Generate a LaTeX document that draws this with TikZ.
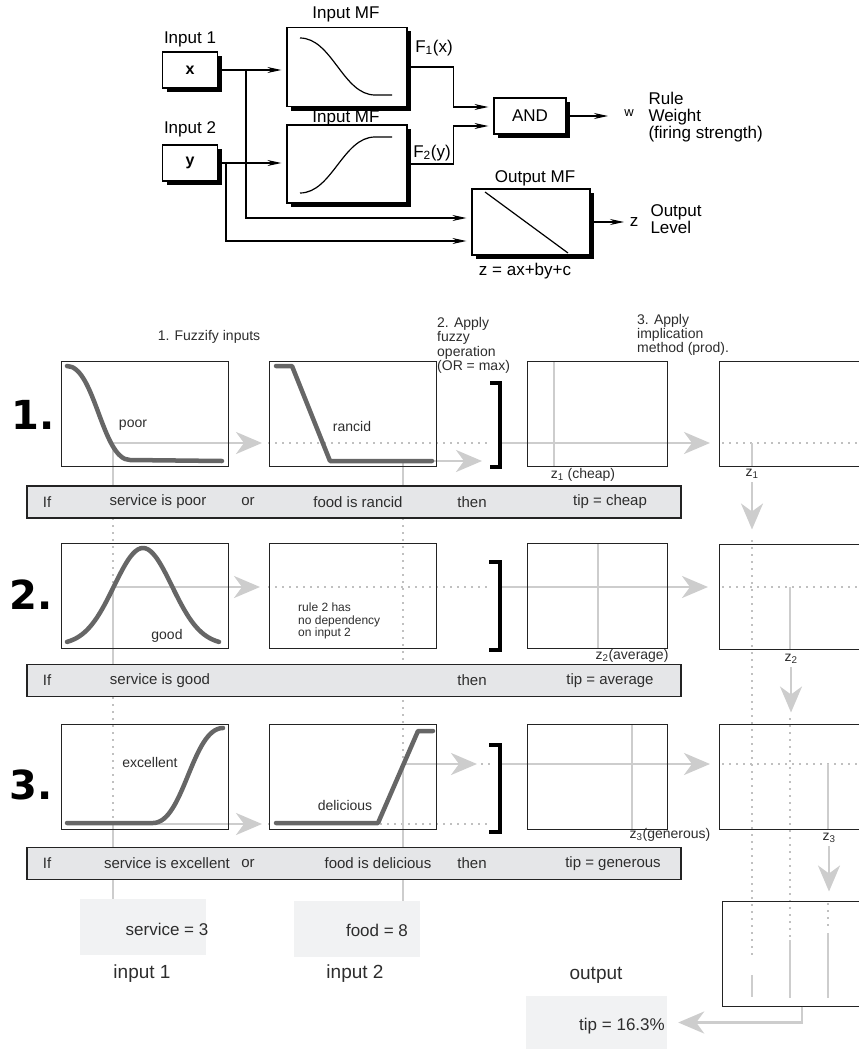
\documentclass[tikz,border=0pt]{standalone}
\usepackage{fontspec}
\setmainfont{Liberation Sans}
\newfontfamily\heavyfont{DejaVu Sans}
\usetikzlibrary{arrows.meta,shadows}

\definecolor{curvegray}{RGB}{102,102,102}
\definecolor{arrowgray}{RGB}{205,205,205}
\definecolor{dotgray}{RGB}{192,192,192}
\definecolor{barfill}{RGB}{229,230,232}
\definecolor{infill}{RGB}{241,242,243}
\definecolor{boxline}{RGB}{35,35,35}
\definecolor{txtgray}{RGB}{45,45,45}

\begin{document}
\begin{tikzpicture}[x=1pt, y=-1pt, >={Stealth[length=14pt,width=6pt]},
  blk/.style={draw, line width=1.2pt, fill=white, drop shadow={shadow xshift=4pt, shadow yshift=-4pt, fill=black, opacity=1}},
  wire/.style={->, line width=1.2pt, shorten >=5pt},
  toplbl/.style={font=\fontsize{17}{17}\selectfont},
  mfbox/.style={draw=boxline, line width=1pt, minimum height=105pt},
  mfcurve/.style={curvegray, line width=4.5pt, line cap=round, line join=round},
  gline/.style={arrowgray, line width=2.8pt},
  garrow/.style={gline, -{Stealth[length=26pt,width=22pt,inset=8pt]}},
  gdot/.style={dotgray, line width=2.4pt, dash pattern=on 2.4pt off 4.6pt},
  brk/.style={line width=4pt, line join=miter},
  rulebar/.style={draw=boxline, line width=1.3pt, fill=barfill, minimum width=654pt, minimum height=32pt},
  bartxt/.style={text=txtgray, font=\fontsize{15}{15}\selectfont},
  smlbl/.style={text=txtgray, font=\fontsize{14}{14}\selectfont},
  inbox/.style={fill=infill, minimum width=126pt, minimum height=56pt},
  biglbl/.style={font=\fontsize{19}{19}\selectfont, text=txtgray},
  rulenum/.style={font=\heavyfont\bfseries\fontsize{40}{40}\selectfont}]
\useasboundingbox (0,0) rectangle (859,1049);
\clip (0,0) rectangle (859,1049);

% block diagram
\node[toplbl] (lin1) at (190,39) {Input 1};
\node[blk, minimum width=55pt, minimum height=36pt, font=\bfseries\fontsize{16}{16}\selectfont] (xin) at (190,70) {x};
\node[toplbl] (lin2) at (190,129) {Input 2};
\node[blk, minimum width=55pt, minimum height=36pt, font=\bfseries\fontsize{16}{16}\selectfont] (yin) at (190,163) {y};

\node[blk, minimum width=120pt, minimum height=79pt] (mf1) at (347,67) {};
\node[blk, minimum width=120pt, minimum height=78pt] (mf2) at (347,164) {};
\node[toplbl] (tmf1) at (346,14) {Input MF};
\node[toplbl] (tmf2) at (346,118) {Input MF};
\draw[line width=1.2pt] (300,38) .. controls (332,38) and (343,95) .. (375,95) -- (392,95);
\draw[line width=1.2pt] (300,193) .. controls (332,193) and (343,137) .. (375,137) -- (392,137);

\node[blk, minimum width=72pt, minimum height=36pt, toplbl] (and) at (530,116) {AND};
\node[blk, minimum width=118pt, minimum height=66pt] (omf) at (531,222) {};
\node[toplbl] (tomf) at (535,178) {Output MF};
\draw[line width=1.2pt] (485,192) -- (568,253);
\node[toplbl] (zeq) at (525,271) {z = ax+by+c};

\coordinate (jx) at (246,70);
\coordinate (jy) at (226,163);
\coordinate (wout) at (608,116);
\coordinate (zout) at (624,222);
\draw[wire] (xin.east) -- (xin.east -| mf1.west);
\draw[wire] (yin.east) -- (yin.east -| mf2.west);
\draw[wire] (jx) |- ([yshift=4pt]omf.west);
\draw[wire] (jy) |- ([yshift=-19pt]omf.west);
\draw[wire] (mf1.east) -- ++(46,0) |- ([yshift=9pt]and.west);
\draw[wire] (mf2.east) -- ++(46,0) |- ([yshift=-10pt]and.west);
\draw[wire, shorten >=0pt] (and.east) -- (wout);
\draw[wire, shorten >=0pt] (omf.east) -- (zout);

\node[toplbl] (f1) at (434,48) {F\textsubscript{1}(x)};
\node[toplbl] (f2) at (432,153) {F\textsubscript{2}(y)};
\node[font=\fontsize{13}{13}\selectfont] (w) at (629,113) {w};
\node[toplbl, align=left, anchor=west] (rwt) at (645,117) {Rule\\Weight\\(firing strength)};
\node[toplbl] (z) at (634,222) {z};
\node[toplbl, align=left, anchor=west] (olev) at (647,219) {Output\\Level};

% step titles
\node[smlbl] (st1) at (209,337) {1. Fuzzify inputs};
\node[smlbl, font=\fontsize{14}{14.5}\selectfont, align=left, anchor=north west, inner sep=0pt] (st2) at (437,317) {2. Apply\\fuzzy\\operation\\(OR = max)};
\node[smlbl, font=\fontsize{14}{12.5}\selectfont, align=left, anchor=north west, inner sep=0pt] (st3) at (637,314) {3. Apply\\implication\\method (prod).};

\node[rulenum] (r1) at (33,415) {1.};
\node[rulenum] (r2) at (31,595) {2.};
\node[rulenum] (r3) at (31,785) {3.};

% input and output value boxes
\node[inbox] (svcbox) at (143,927) {};
\node[inbox] (foodbox) at (357,929) {};
\node[fill=infill, minimum width=141pt, minimum height=53pt] (tipbox) at (596.5,1022.5) {};

% gray lines, rule 1
\draw[gline] (113,443) -- (113,486);
\draw[garrow] (113,443) -- (262,443);
\draw[gdot] (268,443) -- (490,443);
\draw[gline] (403,461) -- (403,486);
\draw[garrow] (403,461) -- (482,461);
\draw[garrow] (502,443) -- (710,443);
\draw[gline] (554,361) -- (554,466);
\draw[gdot] (722,443) -- (859,443);
\draw[gline] (752,443) -- (752,466);

% gray lines, rule 2
\draw[gdot] (113,518) -- (113,587);
\draw[gline] (113,587) -- (113,664);
\draw[garrow] (113,587) -- (260,587);
\draw[gdot] (268,587) -- (490,587);
\draw[gdot] (403,518) -- (403,764);
\draw[garrow] (502,587) -- (708,587);
\draw[gline] (598,543) -- (598,649);
\draw[gdot] (722,587) -- (859,587);
\draw[gline] (790,587) -- (790,649);

% gray lines, rule 3
\draw[gdot] (113,697) -- (113,820);
\draw[gline] (113,822) -- (svcbox.north -| 113,0);
\draw[garrow] (113,824) -- (262,824);
\draw[gdot] (268,824) -- (490,824);
\draw[gline] (403,764) -- (foodbox.north -| 403,0);
\draw[garrow] (403,764) -- (477,764);
\draw[gdot] (481,764) -- (490,764);
\draw[garrow] (502,764) -- (710,764);
\draw[gline] (632,724) -- (632,830);
\draw[gdot] (722,764) -- (859,764);
\draw[gline] (828,764) -- (828,829);

% aggregation column
\draw[gdot] (752,540) -- (752,957);
\draw[gline] (752,975) -- (752,997);
\draw[gdot] (790,718) -- (790,937);
\draw[gline] (790,940) -- (790,998);
\draw[gdot] (828,903) -- (828,926);
\draw[gline] (828,933) -- (828,998);

% boxes
\node[mfbox, minimum width=167pt] (a1) at (144.5,413.5) {};
\node[mfbox, minimum width=167pt] (b1) at (353,413.5) {};
\node[mfbox, minimum width=140pt] (c1) at (597,413.5) {};
\node[mfbox, minimum width=160pt] (d1) at (799,413.5) {};
\node[mfbox, minimum width=167pt] (a2) at (144.5,595.5) {};
\node[mfbox, minimum width=167pt] (b2) at (353,595.5) {};
\node[mfbox, minimum width=140pt] (c2) at (597,596) {};
\node[mfbox, minimum width=160pt] (d2) at (799,596.5) {};
\node[mfbox, minimum width=167pt] (a3) at (144.5,776.5) {};
\node[mfbox, minimum width=167pt] (b3) at (353,776.5) {};
\node[mfbox, minimum width=140pt] (c3) at (597.5,777) {};
\node[mfbox, minimum width=160pt] (d3) at (799,776.5) {};
\node[mfbox, minimum width=160pt] (e) at (802,953.5) {};

% arrows between z levels
\node[smlbl] (z1) at (752,474) {z\textsubscript{1}};
\node[smlbl] (z2) at (791,659) {z\textsubscript{2}};
\node[smlbl] (z3) at (829,838) {z\textsubscript{3}};
\draw[garrow, shorten >=14pt] (z1) -- (z1 |- d2.north);
\draw[garrow, shorten >=11pt] (z2) -- (z2 |- d3.north);
\draw[garrow, shorten >=9pt] (z3) -- (z3 |- e.north);
\draw[garrow, shorten >=11pt] (e.south) |- (tipbox.east);

% membership curves
\draw[mfcurve] (67,366) .. controls (95,366) and (102,460) .. (130,460) -- (222,461);
\draw[mfcurve] (276,366) -- (292,366) -- (330,461) -- (432,461);
\draw[mfcurve] plot[domain=67:219, samples=61, smooth] (\x,{645-97*exp(-((\x-143)/41)*((\x-143)/41))});
\draw[mfcurve] (67,823) -- (153,823) .. controls (184,823) and (192,728) .. (223,728);
\draw[mfcurve] (276,823) -- (378,823) -- (418,731) -- (433,731);

% OR brackets
\draw[brk] (490,383) -- (500,383) -- (500,467) -- (490,467);
\draw[brk] (489,562) -- (500,562) -- (500,650) -- (489,650);
\draw[brk] (489,745) -- (500,745) -- (500,832) -- (489,832);

% curve and output labels
\node[smlbl] (lpoor) at (133,425) {poor};
\node[smlbl] (lrancid) at (352,426) {rancid};
\node[smlbl] (lgood) at (167,636) {good};
\node[smlbl] (lexc) at (150,762) {excellent};
\node[smlbl] (ldel) at (345,805) {delicious};
\node[smlbl, font=\fontsize{12}{12.5}\selectfont, align=left, anchor=north west, inner sep=0pt] (lnodep) at (298,603) {rule 2 has\\no dependency\\on input 2};
\node[smlbl] (lz1) at (583,475) {z\textsubscript{1} (cheap)};
\node[smlbl] (lz2) at (632,656) {z\textsubscript{2}(average)};
\node[smlbl] (lz3) at (670,835) {z\textsubscript{3}(generous)};

% rule bars
\node[rulebar] (bar1) at (354,502) {};
\node[bartxt] at (47,502) {If};
\node[bartxt] at (158,502) {service is poor};
\node[bartxt] at (248,502) {or};
\node[bartxt] at (358,502) {food is rancid};
\node[bartxt] at (472,502) {then};
\node[bartxt] at (610,502) {tip = cheap};

\node[rulebar] (bar2) at (354,680.5) {};
\node[bartxt] at (47,680.5) {If};
\node[bartxt] at (160,680.5) {service is good};
\node[bartxt] at (472,680.5) {then};
\node[bartxt] at (610,680.5) {tip = average};

\node[rulebar] (bar3) at (354,863.5) {};
\node[bartxt] at (47,863.5) {If};
\node[bartxt] at (167,863.5) {service is excellent};
\node[bartxt] at (248,863.5) {or};
\node[bartxt] at (378,863.5) {food is delicious};
\node[bartxt] at (472,863.5) {then};
\node[bartxt] at (613,863.5) {tip = generous};

% values
\node[biglbl, font=\fontsize{17}{17}\selectfont] (svc) at (167,929) {service = 3};
\node[biglbl, font=\fontsize{17}{17}\selectfont] (food) at (377,930) {food = 8};
\node[biglbl, font=\fontsize{17}{17}\selectfont] (tip) at (622,1026) {tip = 16.3\%};
\node[biglbl] (in1) at (142,974) {input 1};
\node[biglbl] (in2) at (355,974) {input 2};
\node[biglbl] (out) at (596,975) {output};
\end{tikzpicture}
\end{document}
